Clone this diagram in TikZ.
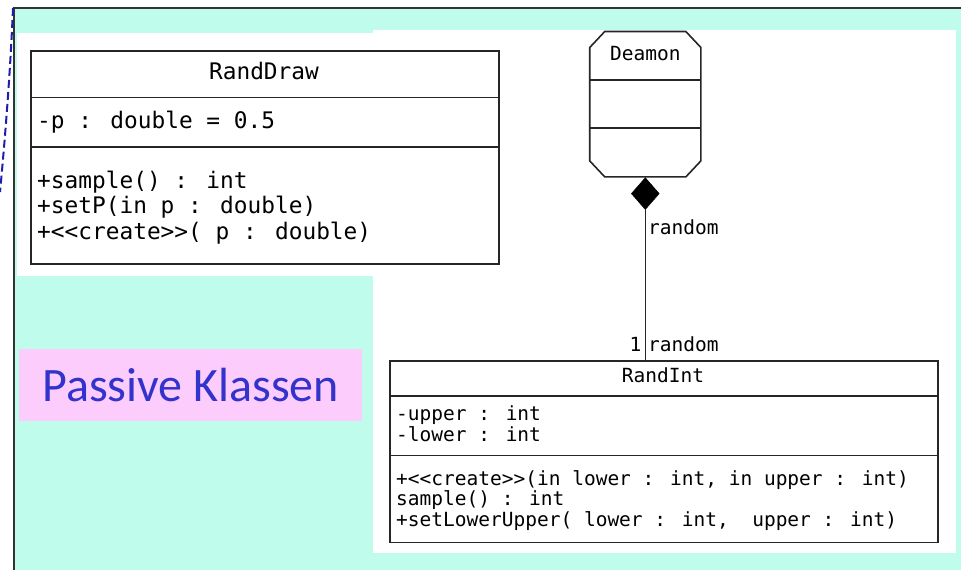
\documentclass[tikz,border=0pt]{standalone}
\usepackage{fontspec}
\usetikzlibrary{shapes.geometric,calc}
\newfontfamily\umlmono{DejaVu Sans Mono}
\newfontfamily\notefont{Carlito}
\definecolor{mint}{RGB}{192,252,236}
\definecolor{notepink}{RGB}{252,204,252}
\definecolor{noteblue}{RGB}{51,51,204}
\definecolor{dashblue}{RGB}{30,30,170}

\begin{document}
\begin{tikzpicture}[x=1pt,y=-1pt,
  umlline/.style={draw=black!85,line width=1.6pt},
  classbox/.style={umlline,fill=white,inner sep=0pt,anchor=north west},
  bigtxt/.style={font=\umlmono\fontsize{22.8pt}{26pt}\selectfont,text=black,inner sep=0pt,anchor=base west},
  smalltxt/.style={font=\umlmono\fontsize{19.5pt}{22pt}\selectfont,text=black,inner sep=0pt,anchor=base west},
  frameline/.style={draw=black!80,line width=2pt}]
\useasboundingbox (0,0) rectangle (961,570);

% slide background and white panels
\fill[mint] (13.5,7.5) rectangle (961,570);
\fill[white] (17.3,32.7) rectangle (373.3,276);
\fill[white] (373.3,30) rectangle (956,553.3);
\draw[frameline] (13.5,570) -- (13.5,7.5) -- (961,7.5);

% dashed guide on the far left
\coordinate (dashtop) at (13,8);
\coordinate (dashbot) at (0,192);
\draw[dashblue,line width=2pt,dash pattern=on 8pt off 4pt]
  (dashtop) .. controls (10,80) and (4,150) .. (dashbot);

% note
\node[fill=notepink,text=noteblue,font=\notefont\fontsize{48pt}{54pt}\selectfont,
      minimum width=343pt,minimum height=72pt,inner sep=0pt,anchor=north west]
  (note) at (19,349) {Passive Klassen};

% class RandDraw
\node[classbox,minimum width=468pt,minimum height=213pt] (randdraw) at (30.3,50) {};
\draw[umlline] (randdraw.west |- 0,97.3) -- (randdraw.east |- 0,97.3);
\draw[umlline] (randdraw.west |- 0,146.7) -- (randdraw.east |- 0,146.7);
\node[bigtxt,anchor=base] (randdrawname) at (264,79.3) {RandDraw};
\node[bigtxt] (randdrawp) at (37,128.3) {-p : double = 0.5};
\node[bigtxt] (randdrawsample) at (37,188.3) {+sample() : int};
\node[bigtxt] (randdrawsetp) at (37,213.3) {+setP(in p : double)};
\node[bigtxt] (randdrawcreate) at (37,239) {+<<create>>( p : double)};

% class Deamon (octagonal outline)
\node[minimum width=110.7pt,minimum height=145pt,inner sep=0pt] (deamon) at (645.3,104.2) {};
\draw[umlline,fill=white]
  ([xshift=15pt]deamon.north west) -- ([xshift=-15pt]deamon.north east)
  -- ([yshift=-16pt]deamon.north east) -- ([yshift=16pt]deamon.south east)
  -- ([xshift=-15pt]deamon.south east) -- ([xshift=15pt]deamon.south west)
  -- ([yshift=16pt]deamon.south west) -- ([yshift=-16pt]deamon.north west) -- cycle;
\draw[umlline] (deamon.west |- 0,80) -- (deamon.east |- 0,80);
\draw[umlline] (deamon.west |- 0,127.7) -- (deamon.east |- 0,127.7);
\node[smalltxt,anchor=base] (deamonname) at (645.3,60.7) {Deamon};

% class RandInt
\node[classbox,minimum width=548pt,minimum height=181.5pt] (randint) at (389.3,360) {};
\draw[umlline] (randint.west |- 0,395.7) -- (randint.east |- 0,395.7);
\draw[umlline] (randint.west |- 0,455.3) -- (randint.east |- 0,455.3);
\node[smalltxt,anchor=base] (randintname) at (663,382.7) {RandInt};
\node[smalltxt] (randintupper) at (396,420.7) {-upper : int};
\node[smalltxt] (randintlower) at (396,441.7) {-lower : int};
\node[smalltxt] (randintcreate) at (396,485) {+<<create>>(in lower : int, in upper : int)};
\node[smalltxt] (randintsample) at (396,505.7) {sample() : int};
\node[smalltxt] (randintsetlu) at (396,526.7) {+setLowerUpper( lower : int,\ \ upper : int)};

% composition Deamon -> RandInt
\node[diamond,fill=black,draw=black,inner sep=0pt,minimum width=28pt,minimum height=32pt,anchor=north]
  (comp) at ([yshift=-0.5pt]deamon.south) {};
\draw[umlline] (comp.south) -- (comp.south |- randint.north);
\node[smalltxt] (rolesrc) at (648,234) {random};
\node[smalltxt,anchor=base east] (multdst) at (641.5,351.7) {1};
\node[smalltxt] (roledst) at (648,351.7) {random};
\end{tikzpicture}
\end{document}
